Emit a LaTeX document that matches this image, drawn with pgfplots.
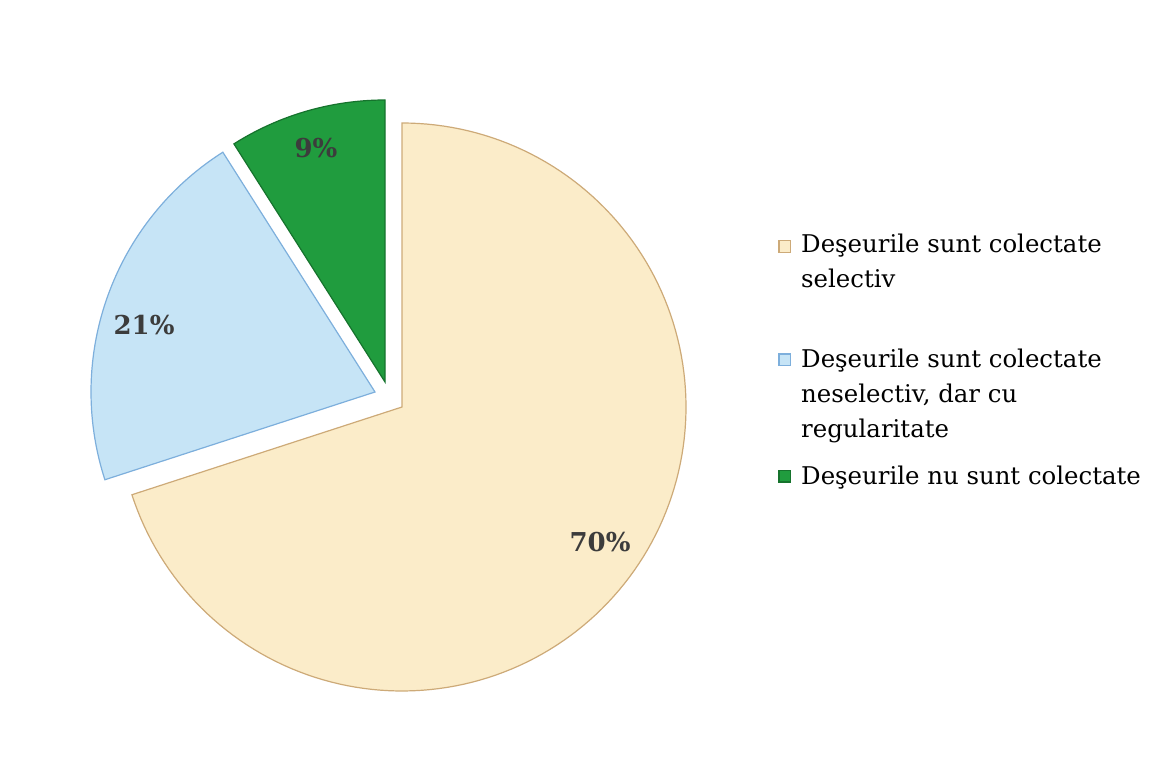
\documentclass[border=0pt]{standalone}
\usepackage{pgfplots}
\pgfplotsset{compat=1.18}
\usepackage{fontspec}
\setmainfont{DejaVu Serif}
\definecolor{beige}{RGB}{251,236,201}
\definecolor{beigeedge}{RGB}{205,170,120}
\definecolor{lblue}{RGB}{198,228,246}
\definecolor{blueedge}{RGB}{125,175,220}
\definecolor{dgreen}{RGB}{32,156,62}
\definecolor{greenedge}{RGB}{22,115,45}
\definecolor{labelc}{RGB}{60,60,60}
% data (percent)
\def\vA{70}\def\vB{21}\def\vC{9}
\pgfmathsetmacro{\aA}{90-3.6*\vA}
\pgfmathsetmacro{\aB}{\aA-3.6*\vB}
\pgfmathsetmacro{\aC}{\aB-3.6*\vC}
\pgfplotsset{
  imgA/.style={legend image code/.code={\draw[##1] (0pt,13.45pt) rectangle (5.8pt,19.25pt);\path (8.8pt,16pt);}},
  imgB/.style={legend image code/.code={\draw[##1] (0pt,14.6pt) rectangle (5.8pt,20.4pt);\path (8.8pt,17pt);}},
}
\begin{document}
\begin{tikzpicture}
\begin{axis}[
  width=579.5pt, height=387.5pt, scale only axis,
  xmin=0, xmax=1159, ymin=0, ymax=775,
  hide axis, clip=false,
  legend cell align=left,
  legend image code/.code={\draw[#1] (0pt,-2.9pt) rectangle (5.8pt,2.9pt);\path (8.8pt,0pt);},
  legend style={draw=none, fill=none, at={(axis cs:772,549)}, anchor=north west,
    font=\fontsize{12.2pt}{17.5pt}\selectfont, row sep=8.5pt,
    nodes={align=left}},
]
\path (axis cs:0,0) rectangle (axis cs:1159,775);
\addplot[fill=beige, draw=beigeedge, line width=0.6pt, domain=\aA:90, samples=150, variable=\t, imgA]
  ({402+284*cos(t)},{368+284*sin(t)}) -- (axis cs:402,368) -- cycle;
\addlegendentry{Deşeurile sunt colectate\\selectiv\\[-1pt]\mbox{}}
\addplot[fill=lblue, draw=blueedge, line width=0.6pt, domain=\aB:\aA, samples=80, variable=\t, imgB]
  ({375+284*cos(t)},{383+284*sin(t)}) -- (axis cs:375,383) -- cycle;
\addlegendentry{Deşeurile sunt colectate\\neselectiv, dar cu\\regularitate}
\addplot[fill=dgreen, draw=greenedge, line width=0.6pt, domain=\aC:\aB, samples=50, variable=\t]
  ({385+282*cos(t)},{393+282*sin(t)}) -- (axis cs:385,393) -- cycle;
\addlegendentry{Deşeurile nu sunt colectate}
\node[font=\fontsize{13pt}{15pt}\selectfont\bfseries, text=labelc] at (axis cs:600,233) {70\%};
\node[font=\fontsize{13pt}{15pt}\selectfont\bfseries, text=labelc] at (axis cs:144,450) {21\%};
\node[font=\fontsize{13pt}{15pt}\selectfont\bfseries, text=labelc] at (axis cs:316,627) {9\%};
\end{axis}
\end{tikzpicture}
\end{document}
